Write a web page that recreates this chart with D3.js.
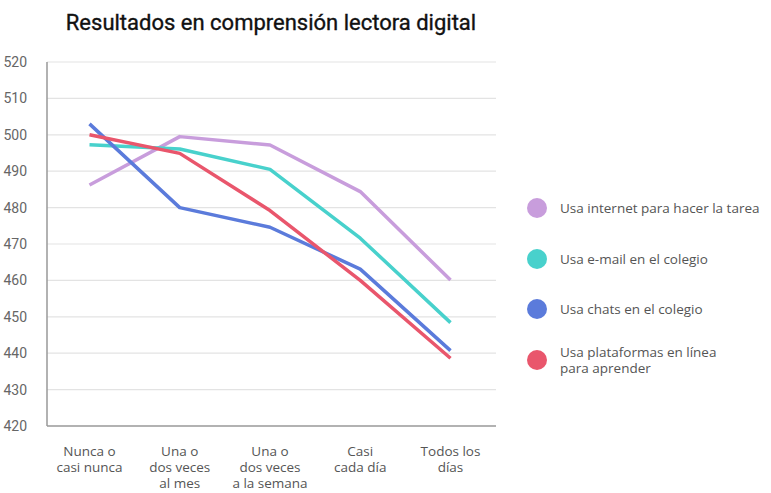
<!DOCTYPE html>
<html><head><meta charset="utf-8">
<script src="https://cdn.jsdelivr.net/npm/d3@7"></script>
<style>body{margin:0;background:#fff}svg{display:block}</style>
</head><body><svg id="c" width="771" height="493"></svg>
<script>
const categories = [["Nunca o","casi nunca"],["Una o","dos veces","al mes"],["Una o","dos veces","a la semana"],["Casi","cada día"],["Todos los","días"]];
const seriesNames = [["Usa internet para hacer la tarea"],["Usa e-mail en el colegio"],["Usa chats en el colegio"],["Usa plataformas en línea","para aprender"]];
const internetTarea = [486.2, 499.5, 497.2, 484.4, 460.1];
const emailColegio = [497.3, 496.1, 490.5, 471.6, 448.4];
const chatsColegio = [503, 480, 474.6, 463.1, 440.7];
const plataformas = [500, 494.9, 479.2, 460, 438.6];
const yTicks = [420,430,440,450,460,470,480,490,500,510,520];
const colors = ["#c89ddc","#48d1cc","#5b7bdb","#e9566c"];
const allSeries = [internetTarea, emailColegio, chatsColegio, plataformas];

const svg = d3.select("#c");
const pLeft = 47, pRight = 496, pTop = 62, pBottom = 426;
const x = d3.scalePoint().domain(d3.range(categories.length)).range([89.5, 450.5]);
const y = d3.scaleLinear().domain([420,520]).range([pBottom, pTop]);

svg.append("text").attr("x", 271).attr("y", 30).attr("text-anchor","middle")
  .attr("font-family","Roboto").attr("font-weight",400).attr("font-size",22).attr("fill","#111")
  .attr("stroke","#111").attr("stroke-width",0.35)
  .text("Resultados en comprensión lectora digital");

// grid
svg.append("g").selectAll("line").data(yTicks.filter(t=>t>420)).join("line")
  .attr("x1",pLeft).attr("x2",pRight).attr("y1",d=>y(d)).attr("y2",d=>y(d))
  .attr("stroke","#e3e3e3").attr("stroke-width",1.2);
svg.append("g").selectAll("text").data(yTicks).join("text")
  .attr("x",27).attr("y",d=>y(d)+5).attr("text-anchor","end")
  .attr("font-family","Roboto").attr("font-size",14).attr("fill","#666").text(d=>d);
svg.append("line").attr("x1",pLeft).attr("x2",pLeft).attr("y1",pTop).attr("y2",pBottom).attr("stroke","#999").attr("stroke-width",1.5);
svg.append("line").attr("x1",pLeft).attr("x2",pRight).attr("y1",pBottom).attr("y2",pBottom).attr("stroke","#999").attr("stroke-width",1.5);

// x labels
svg.append("g").selectAll("text").data(categories.flatMap((d,i)=>d.map((t,j)=>({t,i,j})))).join("text")
  .attr("text-anchor","middle").attr("font-family","Open Sans").attr("font-size",13.5).attr("fill","#555")
  .attr("x", d=>x(d.i)).attr("y", d=>456+d.j*16).text(d=>d.t);

// lines
const line = d3.line().x((d,i)=>x(i)).y(d=>y(d));
svg.append("g").selectAll("path").data(allSeries).join("path")
  .attr("d",line).attr("fill","none").attr("stroke",(d,i)=>colors[i]).attr("stroke-width",3.5)
  .attr("stroke-linejoin","round");

// legend
const legY = [208, 259, 309, 360];
const lg = svg.append("g").selectAll("g").data(seriesNames).join("g");
lg.append("circle").attr("cx",537).attr("cy",(d,i)=>legY[i]).attr("r",10).attr("fill",(d,i)=>colors[i]);
lg.each(function(d,i){
  const n = d.length;
  d3.select(this).selectAll("text").data(d).join("text")
    .attr("font-family","Open Sans").attr("font-size",13.5).attr("fill","#555")
    .attr("x",560).attr("y",(t,j)=>legY[i]+5+(j-(n-1)/2)*16).text(t=>t);
});
</script></body></html>
